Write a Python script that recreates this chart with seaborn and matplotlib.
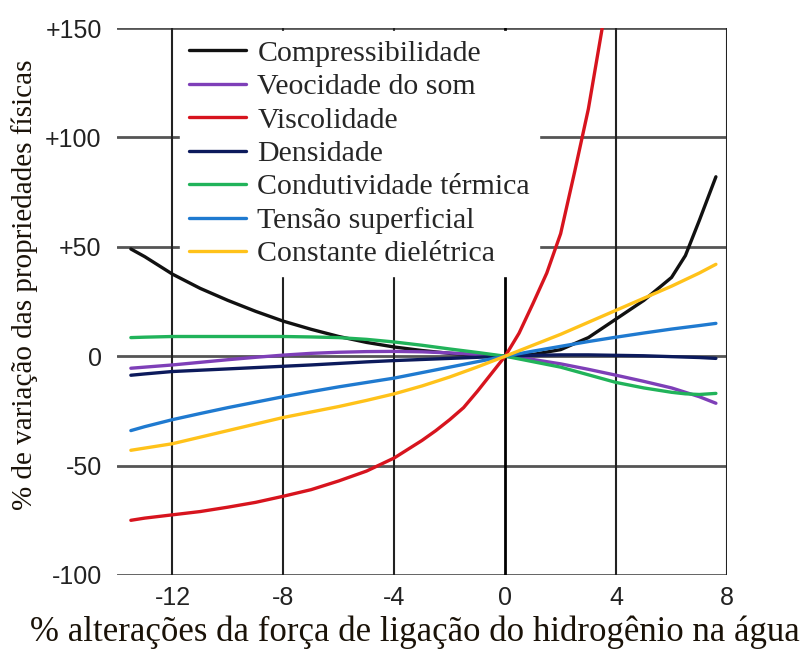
import matplotlib
matplotlib.use("Agg")

import matplotlib.pyplot as plt
import numpy as np
import pandas as pd
import seaborn as sns

# ── dados ───────────────────────────────────────────────────────────────────
x_common = [-13.5, -13, -12, -11, -10, -9, -8, -7, -6, -5, -4, -3, -2, -1,
            0, 1, 2, 3, 4, 5, 6, 6.5, 7, 7.6]

compressibilidade = [49, 45.5, 37.5, 31, 25.5, 20.5, 16, 12.3, 9, 6.3, 4.2, 2.6, 1.3, 0.4,
                     0, 0.8, 3, 8.5, 17, 25.5, 36, 46, 62, 82]
velocidade_som = [-5.5, -5, -4, -2.8, -1.6, -0.5, 0.5, 1.3, 1.8, 2.1, 2.2, 2, 1.5, 0.8,
                  0, -1.5, -3.5, -6, -8.7, -11.5, -14.5, -16.5, -18.5, -21.5]
densidade = [-8.7, -8.1, -7, -6.4, -5.8, -5.2, -4.6, -4, -3.3, -2.6, -2, -1.5, -1, -0.5,
             0, 0.4, 0.6, 0.6, 0.4, 0.2, -0.2, -0.4, -0.6, -1]
condutividade = [8.5, 8.7, 9, 9, 9, 9, 9, 8.8, 8.5, 7.7, 6.5, 5, 3.3, 1.7,
                 0, -2.5, -5, -8.5, -12, -14.5, -16.5, -17.2, -17.5, -17]
tensao = [-34, -32.2, -29, -26.2, -23.5, -21, -18.5, -16.2, -14, -12, -10, -7.5, -5, -2.5,
          0, 2.3, 4.5, 6.7, 8.7, 10.6, 12.4, 13.2, 14, 15]
dieletrica = [-43, -42, -40, -37, -34, -31, -28, -25.5, -23, -20.2, -17.2, -13.6, -9.5, -4.9,
              0, 5, 10, 15.5, 21, 26.5, 32, 35, 38, 42]

x_visc = [-13.5, -13, -12, -11, -10, -9, -8, -7, -6, -5, -4, -3.5, -3, -2.5, -2, -1.5, -1, -0.5,
          0, 0.5, 1, 1.5, 2, 2.5, 3, 3.5, 3.8]
viscosidade = [-75, -74, -72.5, -71, -69, -66.8, -64, -61, -57, -52.5, -46.5, -42.5, -38.5, -34, -29,
               -23.5, -16, -8, 0, 10.5, 24, 38, 56, 84, 113, 150, 172]

labels = [
    "Compressibilidade",
    "Veocidade do som",
    "Viscolidade",
    "Densidade",
    "Condutividade térmica",
    "Tensão superficial",
    "Constante dielétrica",
]
colors = ["#111111", "#7e3fb8", "#d7141e", "#0c1a5c", "#21b35a", "#1f7ad0", "#ffc21a"]

x_ticks = [-12, -8, -4, 0, 4, 8]
y_ticks = [-100, -50, 0, 50, 100, 150]
y_ticklabels = ["-100", "-50", "0", "+50", "+100", "+150"]

# ── tabela longa ────────────────────────────────────────────────────────────
series = {
    labels[0]: (x_common, compressibilidade),
    labels[1]: (x_common, velocidade_som),
    labels[2]: (x_visc, viscosidade),
    labels[3]: (x_common, densidade),
    labels[4]: (x_common, condutividade),
    labels[5]: (x_common, tensao),
    labels[6]: (x_common, dieletrica),
}
frames = [pd.DataFrame({"x": xs, "y": ys, "prop": name}) for name, (xs, ys) in series.items()]
df = pd.concat(frames, ignore_index=True)

# ── figura ──────────────────────────────────────────────────────────────────
sns.set_style("white")
plt.rcParams["font.family"] = ["Liberation Sans", "DejaVu Sans"]
plt.rcParams["axes.unicode_minus"] = False

fig = plt.figure(figsize=(8.05, 6.49), dpi=100)
ax = fig.add_axes([117 / 805, 1 - 575 / 649, 610 / 805, 547 / 649])

# grade
for yv in y_ticks:
    ax.axhline(yv, color="#555555", lw=2.0, zorder=1)
for xv in x_ticks:
    ax.axvline(xv, color="#000000" if xv == 0 else "#222222",
               lw=2.0 if xv == 0 else 1.5, zorder=1)

sns.lineplot(data=df, x="x", y="y", hue="prop", hue_order=labels,
             palette=dict(zip(labels, colors)), sort=False, estimator=None,
             lw=2.4, ax=ax, zorder=3)

ax.set_xlim(-14, 8)
ax.set_ylim(-100, 150)
ax.set_xticks(x_ticks)
ax.set_yticks(y_ticks)
ax.set_yticklabels(y_ticklabels)
ax.tick_params(axis="both", length=0, labelsize=18, colors="#222222")
ax.tick_params(axis="y", pad=11)
ax.tick_params(axis="x", pad=8)
for s in ax.spines.values():
    s.set_visible(False)
ax.set_xlabel("")
ax.set_ylabel("")

leg = ax.legend(loc="upper left", bbox_to_anchor=(0.103, 0.995), frameon=True,
                fancybox=False, framealpha=1, edgecolor="white",
                prop={"family": "Liberation Serif", "size": 21.5},
                handlelength=1.9, handletextpad=0.4, labelspacing=0.22,
                borderpad=0.3, borderaxespad=0)
leg.set_zorder(2)
for line in leg.get_lines():
    line.set_linewidth(2.4)

fig.text(25 / 805, 1 - 285 / 649, "% de variação das propriedades físicas",
         rotation=90, ha="center", va="center", family="Liberation Serif",
         fontsize=21, color="#1a1208")
fig.text(415 / 805, 1 - 632 / 649, "% alterações da força de ligação do hidrogênio na água",
         ha="center", va="center", family="Liberation Serif",
         fontsize=25, color="#1a1208")

fig.savefig("out.png", dpi=100)
plt.close(fig)
